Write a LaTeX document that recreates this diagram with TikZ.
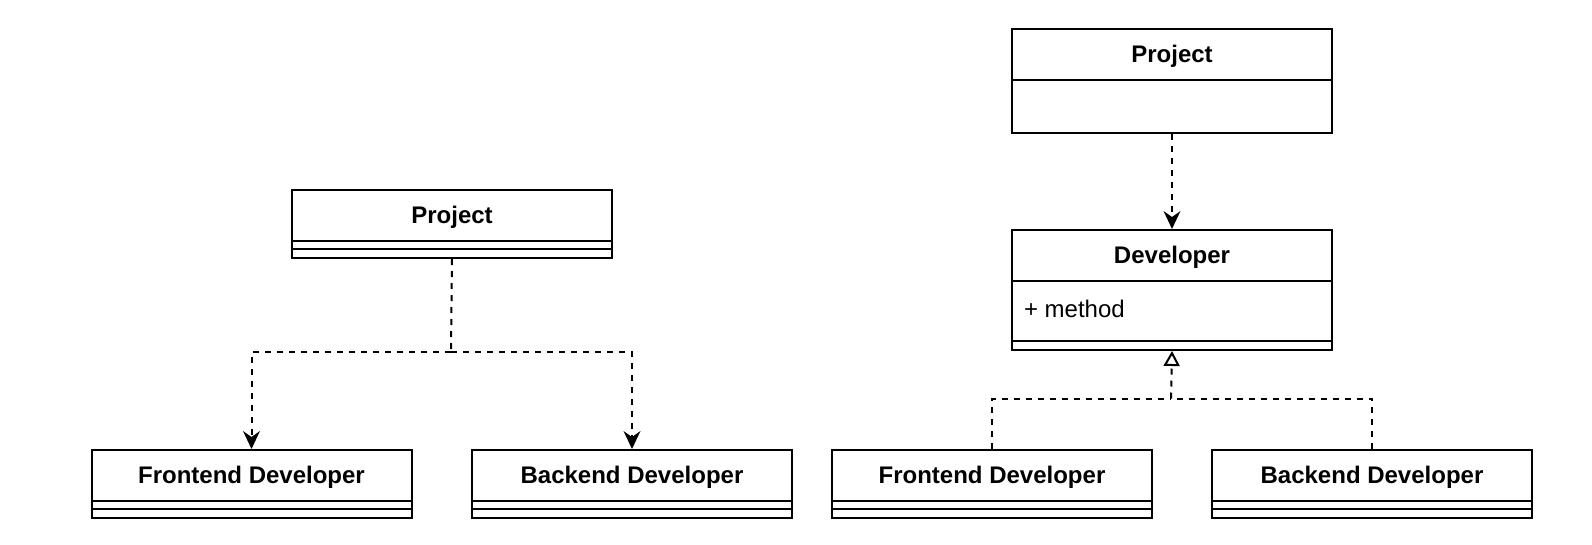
\documentclass[tikz,border=0pt]{standalone}
\usepackage{fontspec}
\setmainfont{Liberation Sans}
\usetikzlibrary{arrows.meta,calc}
\begin{document}
\begin{tikzpicture}[x=1pt,y=-1pt,line width=2pt,
  cls/.style={draw,rectangle,minimum width=320pt,inner sep=0pt,anchor=north west,line join=miter},
  ttl/.style={font=\fontsize{24}{28}\selectfont\bfseries,inner sep=0pt},
  attr/.style={font=\fontsize{24}{28}\selectfont,inner sep=0pt,anchor=west},
  dashline/.style={dash pattern=on 6pt off 6pt},
  dep/.style={dashline,-{Stealth[length=18pt,width=17pt,inset=6pt,line width=0pt]}},
  real/.style={dashline,-{Triangle[open,length=15pt,width=16pt,fill=white]}}]
\useasboundingbox (0,0) rectangle (1592,544);
% left group
\node[cls,minimum height=68pt] (lp) at (291,189) {};
\node[ttl] (lpt) at ($(lp.north)+(0,28.5)$) {Project};
\draw ($(lp.north west)+(0,52)$) -- ++(320,0);
\draw ($(lp.north west)+(0,60)$) -- ++(320,0);

\node[cls,minimum height=68pt] (lf) at (90.5,449) {};
\node[ttl] (lft) at ($(lf.north)+(0,28.5)$) {Frontend Developer};
\draw ($(lf.north west)+(0,52)$) -- ++(320,0);
\draw ($(lf.north west)+(0,60)$) -- ++(320,0);

\node[cls,minimum height=68pt] (lb) at (471,449) {};
\node[ttl] (lbt) at ($(lb.north)+(0,28.5)$) {Backend Developer};
\draw ($(lb.north west)+(0,52)$) -- ++(320,0);
\draw ($(lb.north west)+(0,60)$) -- ++(320,0);

\coordinate (lj) at (451,352);
\draw[dashline] (lp.south) -- (lj);
\draw[dep] (lj) -| (lf.north);
\draw[dep] (lj) -| (lb.north);

% right group
\node[cls,minimum height=104pt] (rp) at (1011,28) {};
\node[ttl] (rpt) at ($(rp.north)+(0,28.5)$) {Project};
\draw ($(rp.north west)+(0,52)$) -- ++(320,0);

\node[cls,minimum height=120pt] (rd) at (1011,229) {};
\node[ttl] (rdt) at ($(rd.north)+(0,28.5)$) {Developer};
\draw ($(rd.north west)+(0,52)$) -- ++(320,0);
\node[attr] (rdm) at ($(rd.north west)+(12,80)$) {+ method};
\draw ($(rd.north west)+(0,112)$) -- ++(320,0);

\node[cls,minimum height=68pt] (rf) at (831,449) {};
\node[ttl] (rft) at ($(rf.north)+(0,28.5)$) {Frontend Developer};
\draw ($(rf.north west)+(0,52)$) -- ++(320,0);
\draw ($(rf.north west)+(0,60)$) -- ++(320,0);

\node[cls,minimum height=68pt] (rb) at (1211,449) {};
\node[ttl] (rbt) at ($(rb.north)+(0,28.5)$) {Backend Developer};
\draw ($(rb.north west)+(0,52)$) -- ++(320,0);
\draw ($(rb.north west)+(0,60)$) -- ++(320,0);

\draw[dep] (rp.south) -- (rd.north);
\coordinate (rj) at (1171,398.5);
\draw[dashline] (rf.north) |- (rj);
\draw[dashline] (rb.north) |- (rj);
\draw[real] (rj) -- (rd.south);
\end{tikzpicture}
\end{document}
